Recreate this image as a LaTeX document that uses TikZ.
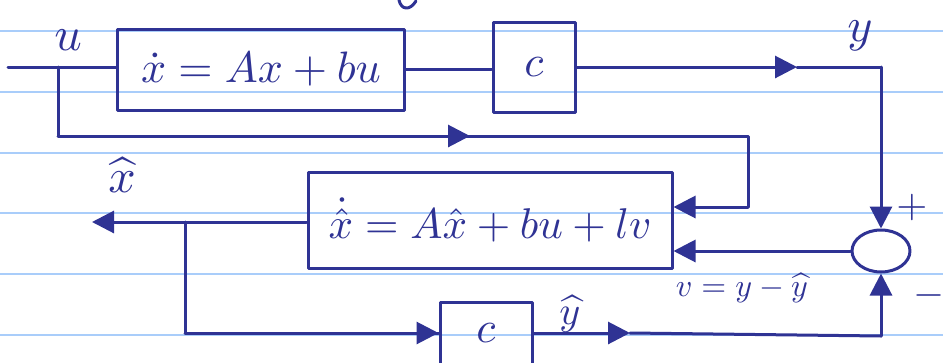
\documentclass[tikz,border=0pt]{standalone}
\usepackage{graphicx}
\usepackage{amsmath}
\usetikzlibrary{arrows.meta,shapes.geometric}
\definecolor{ink}{HTML}{2F3394}
\definecolor{rule}{HTML}{A9CDFA}
\begin{document}
\begin{tikzpicture}[x=1pt,y=-1pt,
  line width=3pt, ink, line join=round, line cap=round,
  blk/.style={draw=ink, line width=3pt, inner sep=0pt, text=ink},
  arr/.style={-{Triangle[length=22pt,width=22pt]}},
  lbl/.style={text=ink, inner sep=0pt}]
\useasboundingbox (0,0) rectangle (943,362);
% notebook rules
\foreach \yy in {31,92,153,213,274,335}
  \draw[rule, line width=2pt] (0,\yy) -- (943,\yy);
% stray fragment at top
\draw (399,0) .. controls (401,10) and (410,11) .. (416,1);
% blocks
\node[blk, minimum width=287pt, minimum height=81pt] (sys) at (261,69.5)
  {\scalebox{4.4}{$\dot{x}=Ax+bu$}};
\node[blk, minimum width=82pt, minimum height=90pt] (c1) at (534,67)
  {\scalebox{4.4}{$c$}};
\node[blk, minimum width=364pt, minimum height=96pt] (obs) at (490,220)
  {\scalebox{4.3}{$\dot{\hat{x}}=A\hat{x}+bu+lv$}};
\node[blk, minimum width=92pt, minimum height=62pt] (c2) at (486,333)
  {\scalebox{4.4}{$c$}};
\node[blk, ellipse, minimum width=58pt, minimum height=42pt] (sum) at (881,251) {};
% coordinates
\coordinate (in) at (8,67);
\coordinate (ub) at (58,67);
\coordinate (ua) at (470,136);
\coordinate (ur) at (748,136);
\coordinate (ya) at (797,67);
\coordinate (yc) at (881,67);
\coordinate (xo) at (92,222);
\coordinate (xb) at (185,222);
\coordinate (yh) at (630,333);
\coordinate (bc) at (881,336);
% connectors
\draw (in) -- (in -| sys.west);
\draw (sys.east) -- (sys.east -| c1.west);
\draw[arr] (c1.east) -- (ya);
\draw (ya) -- (yc);
\draw[arr] (yc) -- (sum.north);
\draw (ub) |- (ua);
\draw[arr] (ub |- ua) -- (ua);
\draw (ua) -- (ur) -- (ur |- 0,207);
\draw[arr] (ur |- 0,207) -- (obs.east |- 0,207);
\draw[arr] (sum.west) -- (sum.west -| obs.east);
\draw[arr] (obs.west |- xo) -- (xo);
\draw (xb) |- (c2.west);
\draw[arr] (xb |- c2.west) -- (c2.west);
\draw[arr] (c2.east) -- (yh);
\draw (yh) -- (bc);
\draw[arr] (bc) -- (sum.south);
% labels
\node[lbl] (lu) at (68,40) {\scalebox{4.8}{$u$}};
\node[lbl] (ly) at (860,36) {\scalebox{4.8}{$y$}};
\node[lbl] (lx) at (122,175) {\scalebox{4.8}{$\widehat{x}$}};
\node[lbl] (lyh) at (570,314) {\scalebox{4}{$\widehat{y}$}};
\node[lbl] (lp) at (912,207) {\scalebox{4}{$+$}};
\node[lbl] (lm) at (929,295) {\scalebox{4}{$-$}};
\node[lbl] (lv) at (742,288) {\scalebox{3.2}{$v=y-\widehat{y}$}};
\end{tikzpicture}
\end{document}
